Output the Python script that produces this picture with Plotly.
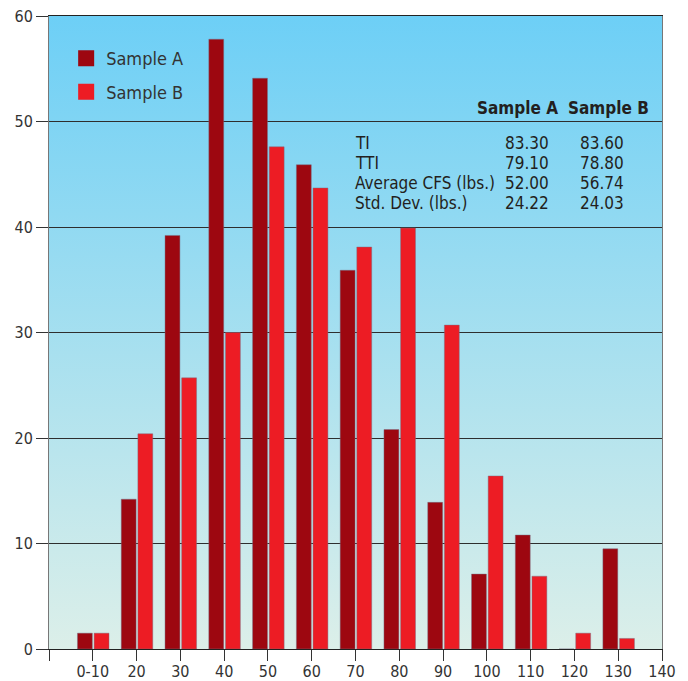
import base64
import plotly.graph_objects as go

# Histogram bins (upper bound of each 10-lb class) and counts per sample
bins = [10, 20, 30, 40, 50, 60, 70, 80, 90, 100, 110, 120, 130]
sample_a = [1.5, 14.2, 39.2, 57.8, 54.1, 45.9, 35.9, 20.8, 13.9, 7.1, 10.8, 0, 9.5]
sample_b = [1.5, 20.4, 25.7, 30.0, 47.6, 43.7, 38.1, 39.9, 30.7, 16.4, 6.9, 1.5, 1.0]

x_tick_vals = [0, 10, 20, 30, 40, 50, 60, 70, 80, 90, 100, 110, 120, 130, 140]
x_tick_text = ["", "0-10", "20", "30", "40", "50", "60", "70", "80", "90",
               "100", "110", "120", "130", "140"]

# Summary statistics table
stat_names = ["TI", "TTI", "Average CFS (lbs.)", "Std. Dev. (lbs.)"]
stats_a = ["83.30", "79.10", "52.00", "24.22"]
stats_b = ["83.60", "78.80", "56.74", "24.03"]

DARK_RED = "#9d0710"
BRIGHT_RED = "#ed1c24"
FONT = "DejaVu Sans Condensed, DejaVu Sans, sans-serif"
TEXT = "#333333"

fig = go.Figure()

bar_line = dict(color="rgba(120,110,130,0.45)", width=1)
fig.add_trace(go.Bar(x=bins, y=sample_a, name="Sample A", marker_color=DARK_RED,
                     marker_line=bar_line, width=3.4, offset=-3.5, showlegend=False))
fig.add_trace(go.Bar(x=bins, y=sample_b, name="Sample B", marker_color=BRIGHT_RED,
                     marker_line=bar_line, width=3.4, offset=0.3, showlegend=False))

# Legend entries with larger square swatches
for name, color in [("Sample A", DARK_RED), ("Sample B", BRIGHT_RED)]:
    fig.add_trace(go.Scatter(x=[None], y=[None], mode="markers", name=name,
                             legendgroup=name,
                             marker=dict(symbol="square", size=17, color=color)))

# Vertical blue-to-pale-green gradient behind the plot area
svg = ('<svg xmlns="http://www.w3.org/2000/svg" width="10" height="100" '
       'viewBox="0 0 10 100" preserveAspectRatio="none">'
       '<defs><linearGradient id="g" x1="0" y1="0" x2="0" y2="1">'
       '<stop offset="0" stop-color="#6dcff6"/>'
       '<stop offset="1" stop-color="#dcefe9"/>'
       '</linearGradient></defs>'
       '<rect width="10" height="100" fill="url(#g)"/></svg>')
bg_uri = "data:image/svg+xml;base64," + base64.b64encode(svg.encode()).decode()

fig.add_layout_image(dict(source=bg_uri, xref="x", yref="y", x=0, y=60,
                          sizex=140, sizey=60, xanchor="left", yanchor="top",
                          sizing="stretch", layer="below"))

# Statistics table as text annotations
annotations = []
hdr_font = dict(family=FONT, size=17, color="#231f20")
body_font = dict(family=FONT, size=17, color="#231f20")
annotations.append(dict(x=116.7, y=51.25, text="<b>Sample A</b>", xanchor="right",
                        yanchor="middle", showarrow=False, font=hdr_font))
annotations.append(dict(x=137.4, y=51.25, text="<b>Sample B</b>", xanchor="right",
                        yanchor="middle", showarrow=False, font=hdr_font))
for i, (nm, va, vb) in enumerate(zip(stat_names, stats_a, stats_b)):
    yy = 48.0 - i * 1.9
    annotations.append(dict(x=69.4, y=yy, text=nm, xanchor="left", yanchor="middle",
                            showarrow=False, font=body_font))
    annotations.append(dict(x=114.6, y=yy, text=va, xanchor="right", yanchor="middle",
                            showarrow=False, font=body_font))
    annotations.append(dict(x=131.7, y=yy, text=vb, xanchor="right", yanchor="middle",
                            showarrow=False, font=body_font))

fig.update_layout(
    width=688, height=681,
    margin=dict(l=49, r=26, t=16, b=32, autoexpand=False),
    paper_bgcolor="white",
    plot_bgcolor="#a6def0",
    barmode="overlay",
    font=dict(family=FONT, color=TEXT),
    annotations=annotations,
    legend=dict(x=0.028, y=0.962, xanchor="left", yanchor="top",
                bgcolor="rgba(0,0,0,0)", font=dict(family=FONT, size=18, color=TEXT),
                itemsizing="trace", traceorder="grouped", tracegroupgap=7),
    xaxis=dict(range=[0, 140], tickvals=x_tick_vals, ticktext=x_tick_text,
               showgrid=False, zeroline=False, showline=True, linecolor="#222222",
               linewidth=1, mirror=True, ticks="outside", ticklen=11, automargin=False,
               ticklabelstandoff=-3,
               tickcolor="#333333", tickfont=dict(family=FONT, size=16, color=TEXT)),
    yaxis=dict(range=[0, 60], dtick=10, showgrid=True, gridcolor="#2e2e2e",
               gridwidth=1, zeroline=False, showline=True, linecolor="#777777",
               linewidth=1, mirror=True, ticks="outside", ticklen=12, automargin=False,
               tickcolor="#333333", tickfont=dict(family=FONT, size=16, color=TEXT)),
)

fig.write_html("out.html")
